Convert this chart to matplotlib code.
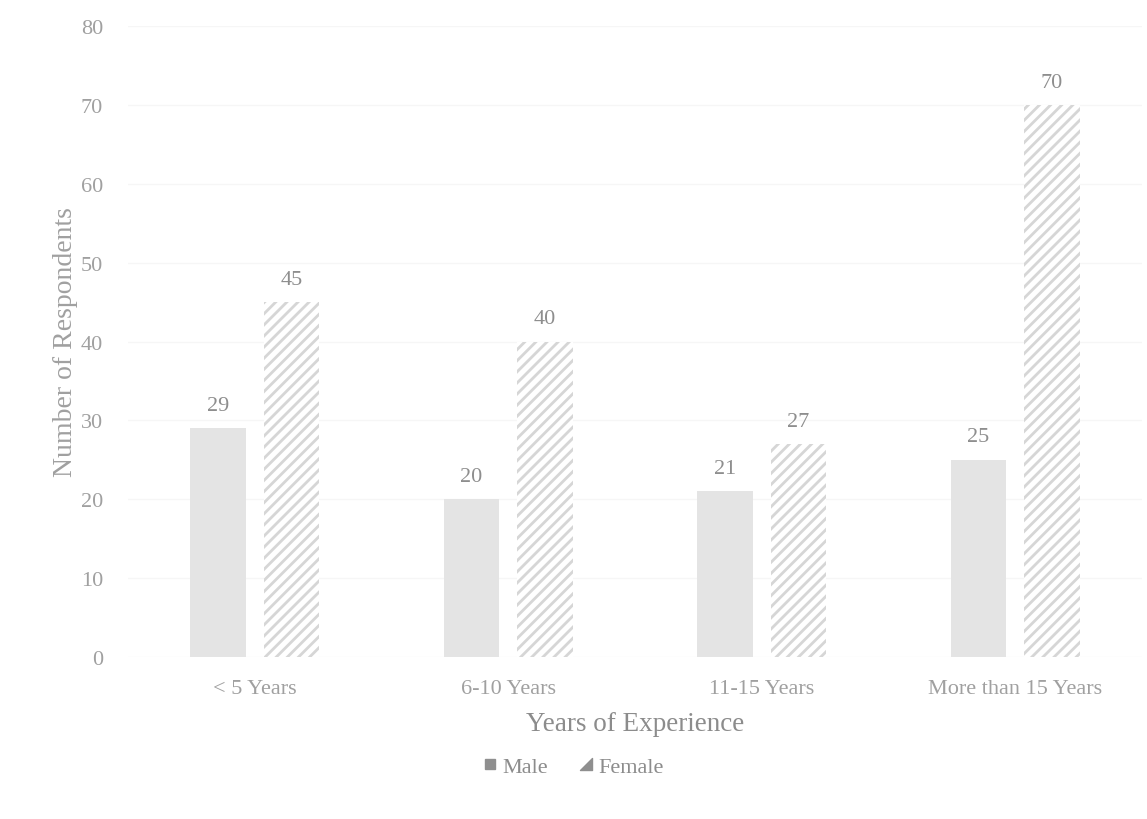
import matplotlib.pyplot as plt
from matplotlib.lines import Line2D
from matplotlib.path import Path
import numpy as np

categories = ["< 5 Years", "6-10 Years", "11-15 Years", "More than 15 Years"]
male = [29, 20, 21, 25]
female = [45, 40, 27, 70]
yticks = [0, 10, 20, 30, 40, 50, 60, 70, 80]

plt.rcParams['font.family'] = ['Liberation Serif', 'DejaVu Serif']
plt.rcParams['hatch.linewidth'] = 2.0
plt.rcParams['hatch.color'] = '#d6d6d6'

fig = plt.figure(figsize=(11.47, 8.2), dpi=100)
ax = fig.add_axes([0.1116, 0.1976, 0.8840, 0.7694])

x = np.arange(len(categories))
w = 0.22
off = 0.145
text_c = '#a0a0a0'

bm = ax.bar(x - off, male, w, color='#e4e4e4', edgecolor='none', label='Male', zorder=2)
bf = ax.bar(x + off, female, w, color='white', edgecolor='#d6d6d6', linewidth=0,
            hatch='///', label='Female', zorder=2)

for rect, v in zip(bm, male):
    ax.text(rect.get_x() + rect.get_width() / 2, v + 1.7, str(v), ha='center', va='bottom',
            fontsize=16, color='#8e8e8e')
for rect, v in zip(bf, female):
    ax.text(rect.get_x() + rect.get_width() / 2, v + 1.7, str(v), ha='center', va='bottom',
            fontsize=16, color='#8e8e8e')

ax.set_xlim(-0.5, len(categories) - 0.5)
ax.set_ylim(0, 80)
ax.set_yticks(yticks)
ax.set_xticks(x)
ax.set_xticklabels(categories)
ax.tick_params(axis='both', length=0, colors=text_c, labelsize=16)
ax.tick_params(axis='y', pad=18)
ax.tick_params(axis='x', pad=16)
for s in ax.spines.values():
    s.set_visible(False)
ax.grid(axis='y', color='#f6f6f6', linewidth=1, zorder=0)
ax.set_axisbelow(True)

ax.set_ylabel('Number of Respondents', fontsize=20, color=text_c, labelpad=2)
ax.set_xlabel('Years of Experience', fontsize=19.5, color='#8c8c8c', labelpad=9)

# legend icons: small square for Male, small wedge for Female
wedge = Path([(-0.5, -0.5), (0.5, -0.5), (0.5, 0.5), (-0.5, -0.5)],
             [Path.MOVETO, Path.LINETO, Path.LINETO, Path.CLOSEPOLY])
h_male = Line2D([], [], linestyle='none', marker='s', markersize=7,
                markerfacecolor='#8f8f8f', markeredgecolor='#8f8f8f')
h_female = Line2D([], [], linestyle='none', marker=wedge, markersize=9,
                  markerfacecolor='#8f8f8f', markeredgecolor='#8f8f8f')
fig.legend(handles=[h_male, h_female], labels=['Male', 'Female'], loc='center',
           bbox_to_anchor=(0.5, 0.064), ncol=2, frameon=False, fontsize=16,
           handlelength=0.6, handletextpad=0.25, columnspacing=1.4,
           labelcolor='#8c8c8c')

fig.savefig('out.png', dpi=100, facecolor='white')
